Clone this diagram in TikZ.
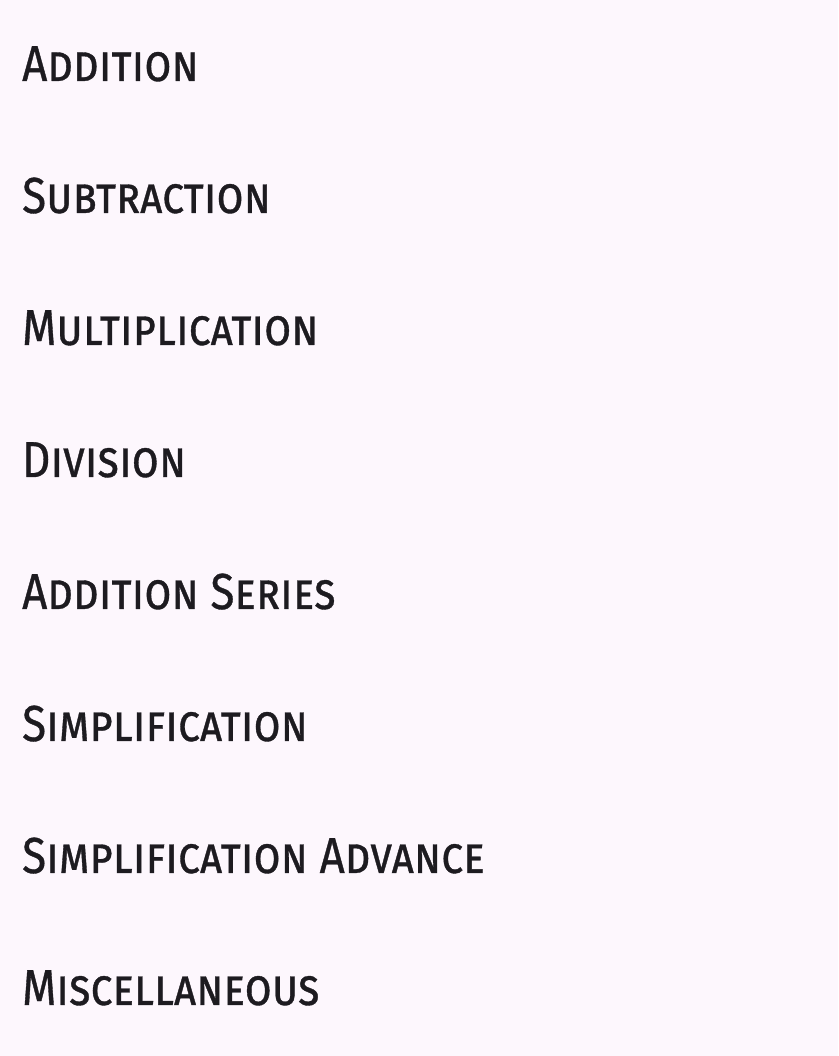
\documentclass[tikz,border=0pt]{standalone}
\usepackage{fontspec}
\setmainfont{Fira Sans}[FakeStretch=0.868,FakeBold=0.7]
\begin{document}
\definecolor{bg}{HTML}{FDF7FD}
\definecolor{ink}{HTML}{1D1B20}
\begin{tikzpicture}[x=1pt,y=1pt,
  item/.style={anchor=base west,inner sep=0pt,text=ink,font=\fontsize{50.5}{51}\selectfont\scshape}]
\fill[bg] (0,0) rectangle (838,1056);
\useasboundingbox (0,0) rectangle (838,1056);
\node[item] (n1) at (22,975) {Addition};
\node[item] (n2) at (22,843) {Subtraction};
\node[item] (n3) at (22,711) {Multiplication};
\node[item] (n4) at (22,579) {Division};
\node[item] (n5) at (22,447) {Addition Series};
\node[item] (n6) at (22,315) {Simplification};
\node[item] (n7) at (22,183) {Simplification Advance};
\node[item] (n8) at (22,51) {Miscellaneous};
\end{tikzpicture}
\end{document}
